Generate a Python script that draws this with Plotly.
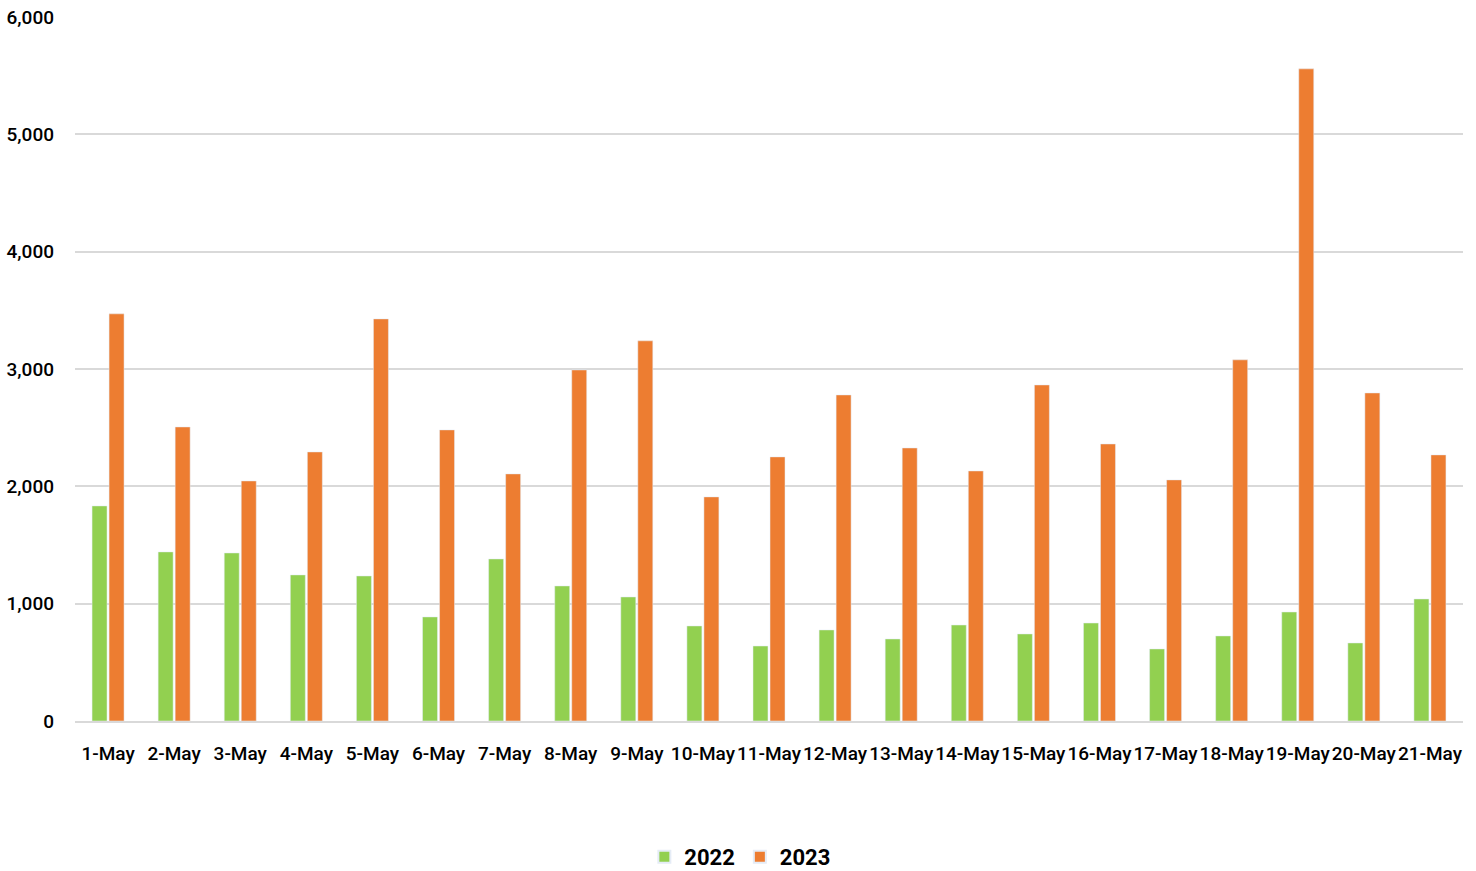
import plotly.graph_objects as go

categories = ["1-May", "2-May", "3-May", "4-May", "5-May", "6-May", "7-May", "8-May", "9-May", "10-May",
              "11-May", "12-May", "13-May", "14-May", "15-May", "16-May", "17-May", "18-May", "19-May",
              "20-May", "21-May"]
values_2022 = [1833, 1441, 1432, 1245, 1236, 887, 1381, 1151, 1057, 810,
               639, 776, 699, 818, 742, 835, 614, 725, 929, 665, 1040]
values_2023 = [3470, 2506, 2046, 2293, 3427, 2481, 2106, 2992, 3240, 1910,
               2251, 2779, 2327, 2131, 2864, 2361, 2055, 3078, 5558, 2796, 2268]
y_ticks = [0, 1000, 2000, 3000, 4000, 5000, 6000]
y_tick_labels = ["0", "1,000", "2,000", "3,000", "4,000", "5,000", "6,000"]

FONT = "Roboto, Liberation Sans, sans-serif"

fig = go.Figure()
fig.add_trace(go.Bar(x=categories, y=values_2022, name="2022", marker_color="#92D050"))
fig.add_trace(go.Bar(x=categories, y=values_2023, name="2023", marker_color="#ED7D31"))

fig.update_layout(
    width=1476, height=871,
    barmode="group", bargap=0.485, bargroupgap=0.12,
    plot_bgcolor="white", paper_bgcolor="white",
    margin=dict(l=75, r=13, t=17, b=150, autoexpand=False),
    font=dict(family=FONT, size=19, color="black"),
    legend=dict(orientation="h", x=0.479, xanchor="center", y=-0.193, yanchor="middle",
                font=dict(size=22, family=FONT, weight="bold"), traceorder="normal",
                itemwidth=30, itemsizing="constant"),
    showlegend=True,
)
fig.update_xaxes(showgrid=False, showline=True, linecolor="#D9D9D9", linewidth=2,
                 tickangle=0, tickfont=dict(size=19, family=FONT, weight=500), ticks="",
                 ticklabelstandoff=14)
fig.update_yaxes(range=[0, 6000], tickvals=y_ticks, ticktext=y_tick_labels,
                 showgrid=True, gridcolor="#D9D9D9", gridwidth=2, zeroline=False,
                 tickfont=dict(size=19, family=FONT, weight=500), ticks="", ticklabelstandoff=20)

fig.write_html("out.html", config={"displayModeBar": False},
               post_script="document.body.style.margin='0';document.body.style.overflow='hidden';")
